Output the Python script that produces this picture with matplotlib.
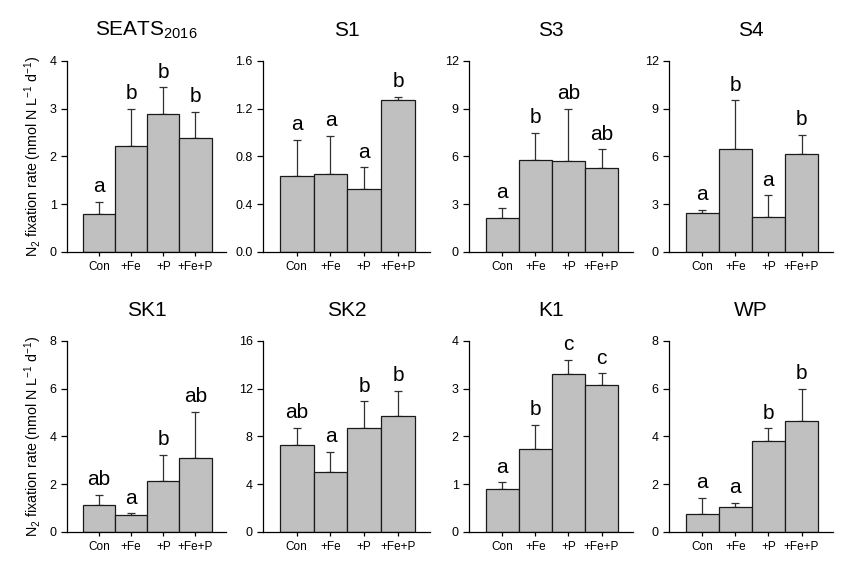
import matplotlib
matplotlib.use('Agg')
import matplotlib.pyplot as plt

plt.rcParams['font.family'] = ['Liberation Sans', 'DejaVu Sans']
plt.rcParams['mathtext.fontset'] = 'custom'
plt.rcParams['mathtext.rm'] = 'Liberation Sans'
plt.rcParams['mathtext.it'] = 'Liberation Sans'

# treatments
treatments = ['Con', '+Fe', '+P', '+Fe+P']

# station names (title), y-limits, ticks
titles = ['SEATS$_{2016}$', 'S1', 'S3', 'S4', 'SK1', 'SK2', 'K1', 'WP']
ymax = [4, 1.6, 12, 12, 8, 16, 4, 8]
ystep = [1, 0.4, 3, 3, 2, 4, 1, 2]

# mean rates
seats_mean = [0.80, 2.22, 2.90, 2.38]
s1_mean = [0.64, 0.65, 0.53, 1.27]
s3_mean = [2.15, 5.80, 5.70, 5.25]
s4_mean = [2.43, 6.46, 2.22, 6.15]
sk1_mean = [1.14, 0.70, 2.12, 3.09]
sk2_mean = [7.25, 5.05, 8.75, 9.68]
k1_mean = [0.90, 1.73, 3.31, 3.08]
wp_mean = [0.75, 1.03, 3.79, 4.63]

# top of error bars
seats_err = [1.05, 3.00, 3.45, 2.93]
s1_err = [0.94, 0.97, 0.71, 1.30]
s3_err = [2.76, 7.50, 9.00, 6.44]
s4_err = [2.65, 9.52, 3.55, 7.38]
sk1_err = [1.55, 0.78, 3.22, 5.04]
sk2_err = [8.70, 6.68, 10.95, 11.85]
k1_err = [1.04, 2.25, 3.61, 3.32]
wp_err = [1.42, 1.21, 4.34, 5.98]

# significance letters
seats_lab = ['a', 'b', 'b', 'b']
s1_lab = ['a', 'a', 'a', 'b']
s3_lab = ['a', 'b', 'ab', 'ab']
s4_lab = ['a', 'b', 'a', 'b']
sk1_lab = ['ab', 'a', 'b', 'ab']
sk2_lab = ['ab', 'a', 'b', 'b']
k1_lab = ['a', 'b', 'c', 'c']
wp_lab = ['a', 'a', 'b', 'b']

means = [seats_mean, s1_mean, s3_mean, s4_mean, sk1_mean, sk2_mean, k1_mean, wp_mean]
errs = [seats_err, s1_err, s3_err, s4_err, sk1_err, sk2_err, k1_err, wp_err]
labs = [seats_lab, s1_lab, s3_lab, s4_lab, sk1_lab, sk2_lab, k1_lab, wp_lab]

fig = plt.figure(figsize=(8.41, 5.63), dpi=100)

lefts = [0.0797, 0.3127, 0.5577, 0.7955]
widths = [0.189, 0.1986, 0.195, 0.195]
bottoms = [0.5524, 0.0551]
height = 0.3393

for i in range(8):
    row, col = divmod(i, 4)
    ax = fig.add_axes([lefts[col], bottoms[row], widths[col], height])
    x = list(range(4))
    m = means[i]
    up = [e - v for e, v in zip(errs[i], m)]
    ax.bar(x, m, width=1.0, color='#c0c0c0', edgecolor='#1a1a1a', linewidth=0.9, zorder=2)
    ax.errorbar(x, m, yerr=[[0] * 4, up], fmt='none', ecolor='#303030',
                elinewidth=0.9, capsize=3, capthick=0.9, zorder=1)
    for xi, e, t in zip(x, errs[i], labs[i]):
        ax.text(xi, e + ymax[i] * 0.03, t, ha='center', va='bottom', fontsize=15)
    ax.set_ylim(0, ymax[i])
    ax.set_xlim(-1.0, 3.95)
    n = int(round(ymax[i] / ystep[i]))
    yt = [k * ystep[i] for k in range(n + 1)]
    ax.set_yticks(yt)
    if ystep[i] < 1:
        ax.set_yticklabels(['%.1f' % v for v in yt])
    else:
        ax.set_yticklabels(['%d' % v for v in yt])
    ax.set_xticks(x)
    ax.set_xticklabels(treatments)
    ax.tick_params(axis='y', labelsize=9, length=4, width=0.9, direction='out')
    ax.tick_params(axis='x', labelsize=8.5, length=3, width=0.9, direction='out')
    ax.spines['top'].set_visible(False)
    ax.spines['right'].set_visible(False)
    ax.spines['left'].set_linewidth(0.9)
    ax.spines['bottom'].set_linewidth(0.9)
    ax.set_title(titles[i], fontsize=15, pad=18)
    if col == 0:
        ax.set_ylabel('N$_2$ fixation rate (nmol N L$^{-1}$ d$^{-1}$)', fontsize=10.3)

fig.savefig('out.png', dpi=100)
